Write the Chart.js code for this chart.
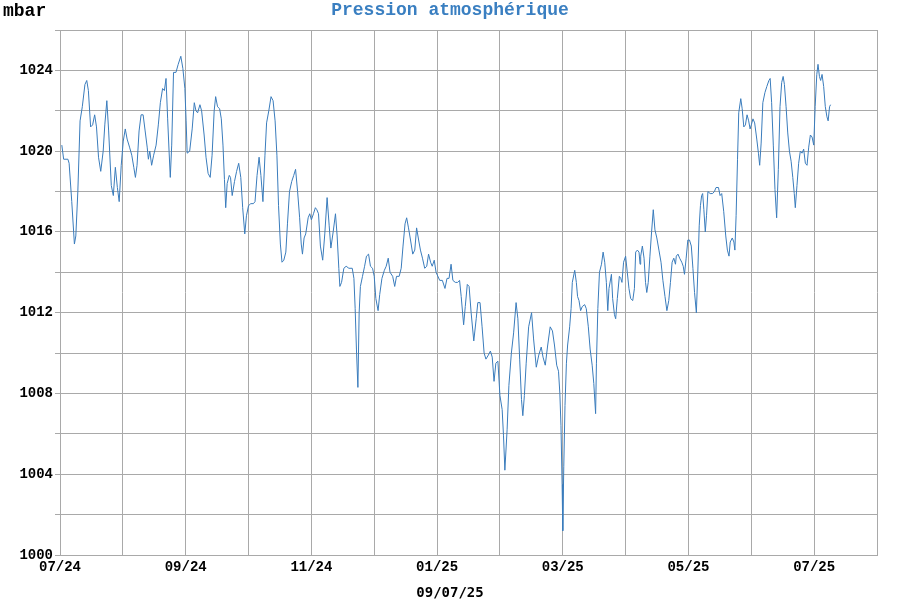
<!DOCTYPE html>
<html>
<head>
<meta charset="utf-8">
<script src="https://cdn.jsdelivr.net/npm/chart.js@4.4.1/dist/chart.umd.min.js"></script>
<style>
  html, body { margin: 0; padding: 0; background: #ffffff; }
  canvas { display: block; }
</style>
</head>
<body>
<canvas id="c" width="900" height="600"></canvas>
<script>
// Month tick labels (one gridline per month, label every 2 months)
const monthLabels = ['07/24','08/24','09/24','10/24','11/24','12/24','01/25','02/25','03/25','04/25','05/25','06/25','07/25','08/25'];
const monthLengths = [31,31,30,31,30,31,31,28,31,30,31,30,31];

// Readings: [day of month, pressure mbar]
const jul24 = [[1.9,1020.3],[2.8,1019.6],[4.9,1019.6],[5.5,1019.4],[6.8,1017.5],[8.1,1015.4],[8.8,1015.8],[9.8,1018.0],[10.9,1021.5],[12.0,1022.2],[13.3,1023.3],[14.2,1023.5],[15.0,1023.0],[16.1,1021.2],[17.1,1021.3],[18.1,1021.8],[19.0,1021.2],[20.0,1019.7],[21.1,1019.0],[22.3,1020.0],[23.1,1021.3],[24.1,1022.5],[25.0,1021.0],[26.3,1018.3],[27.3,1017.8],[28.3,1019.2],[29.3,1018.2],[30.2,1017.5],[31.2,1019.3]];
const aug24 = [[1.2,1020.5],[2.2,1021.1],[3.1,1020.6],[4.3,1020.2],[5.4,1019.8],[6.4,1019.2],[7.2,1018.7],[8.0,1019.3],[9.0,1021.0],[10.0,1021.8],[11.0,1021.8],[12.0,1021.0],[13.0,1020.2],[13.6,1019.6],[14.3,1020.0],[15.2,1019.3],[16.2,1019.8],[17.4,1020.3],[18.5,1021.3],[19.5,1022.4],[20.6,1023.1],[21.5,1023.0],[22.3,1023.6],[23.1,1021.6],[23.8,1020.0],[24.4,1018.7],[25.1,1020.3],[26.0,1023.9],[27.2,1023.9],[28.3,1024.3],[29.6,1024.7],[30.6,1024.1],[31.6,1023.1]];
const sep24 = [[1.2,1021.5],[1.7,1019.9],[2.9,1020.0],[4.1,1021.1],[5.1,1022.4],[5.9,1022.0],[6.7,1021.9],[7.8,1022.3],[8.6,1022.0],[9.8,1020.8],[10.7,1019.7],[11.7,1018.9],[12.7,1018.7],[13.6,1019.8],[14.6,1022.0],[15.3,1022.7],[16.2,1022.2],[17.2,1022.1],[18.0,1021.6],[18.8,1020.3],[19.5,1018.6],[20.1,1017.2],[20.8,1018.4],[21.8,1018.8],[22.4,1018.7],[23.2,1017.8],[24.3,1018.5],[25.3,1019.0],[26.3,1019.4],[27.3,1018.7],[28.2,1017.2],[29.2,1015.9],[30.0,1016.8]];
const oct24 = [[1.0,1017.3],[2.1,1017.4],[3.4,1017.4],[4.2,1017.5],[5.2,1018.8],[6.2,1019.7],[7.1,1018.8],[8.1,1017.5],[9.1,1019.8],[9.9,1021.4],[11.0,1022.0],[12.1,1022.7],[13.1,1022.5],[14.1,1021.5],[15.0,1019.8],[15.8,1017.3],[16.7,1015.4],[17.5,1014.5],[18.4,1014.6],[19.4,1015.0],[20.2,1016.4],[21.2,1018.0],[22.3,1018.5],[23.3,1018.8],[24.2,1019.1],[25.2,1018.0],[26.2,1016.7],[27.0,1015.4],[27.6,1014.9],[28.4,1015.7],[29.2,1015.9],[30.4,1016.7],[31.2,1016.9]];
const nov24 = [[1.0,1016.6],[2.0,1016.9],[2.9,1017.2],[3.6,1017.1],[4.4,1016.9],[5.3,1015.3],[6.4,1014.6],[7.4,1015.9],[8.5,1017.7],[9.5,1016.3],[10.3,1015.2],[11.4,1016.0],[12.5,1016.9],[13.3,1015.8],[14.1,1014.2],[14.6,1013.3],[15.4,1013.5],[16.5,1014.2],[17.6,1014.3],[18.9,1014.2],[20.5,1014.2],[21.3,1013.7],[21.9,1012.2],[22.5,1010.2],[23.2,1008.3],[23.8,1012.0],[24.4,1013.3],[25.4,1013.8],[26.4,1014.3],[27.3,1014.8],[28.3,1014.9],[29.2,1014.3],[30.2,1014.2]];
const dec24 = [[1.0,1013.8],[1.8,1012.7],[2.9,1012.1],[3.7,1012.9],[4.8,1013.7],[6.0,1014.1],[6.9,1014.3],[7.9,1014.7],[8.8,1014.0],[10.1,1013.8],[11.1,1013.3],[12.0,1013.8],[13.3,1013.8],[14.3,1014.2],[15.2,1015.3],[16.2,1016.4],[17.0,1016.7],[17.9,1016.2],[18.9,1015.6],[20.0,1014.9],[21.0,1015.1],[21.9,1016.2],[22.9,1015.6],[23.8,1015.1],[24.8,1014.7],[25.9,1014.2],[26.9,1014.3],[27.8,1014.9],[28.8,1014.5],[29.6,1014.3],[30.6,1014.6],[31.5,1014.0]];
const jan25 = [[2.3,1013.6],[3.6,1013.6],[4.9,1013.2],[5.9,1013.7],[6.9,1013.7],[7.9,1014.4],[8.8,1013.6],[10.0,1013.5],[11.1,1013.5],[12.1,1013.6],[12.9,1012.8],[14.1,1011.4],[14.9,1012.3],[15.9,1013.4],[16.8,1013.3],[17.8,1012.0],[19.1,1010.6],[20.3,1011.7],[21.1,1012.5],[22.2,1012.5],[23.2,1011.3],[24.2,1010.0],[25.1,1009.7],[26.3,1009.9],[27.3,1010.1],[28.2,1009.8],[29.1,1008.6],[30.0,1009.5],[31.0,1009.6]];
const feb25 = [[1.0,1007.9],[2.0,1007.2],[2.6,1005.9],[3.2,1004.2],[4.2,1006.2],[5.0,1008.4],[6.1,1010.0],[7.1,1011.0],[8.2,1012.5],[9.0,1011.7],[9.8,1009.7],[10.6,1007.7],[11.2,1006.9],[11.9,1007.9],[12.7,1009.5],[13.8,1011.3],[15.1,1012.0],[16.0,1010.7],[17.2,1009.3],[18.3,1009.9],[19.4,1010.3],[20.2,1009.8],[21.2,1009.4],[22.3,1010.4],[23.4,1011.3],[24.4,1011.1],[25.3,1010.4],[26.3,1009.4],[27.1,1009.1],[27.7,1008.0],[28.2,1006.4],[28.7,1003.5]];
const mar25 = [[1.0,1001.2],[1.5,1004.4],[2.1,1007.4],[2.8,1009.5],[3.4,1010.4],[4.4,1011.3],[5.1,1012.2],[5.7,1013.5],[6.9,1014.1],[7.7,1013.5],[8.3,1012.8],[9.0,1012.6],[9.8,1012.1],[10.6,1012.3],[11.8,1012.4],[12.6,1012.2],[13.6,1011.3],[14.5,1010.2],[15.5,1009.4],[16.3,1008.5],[17.2,1007.0],[17.6,1009.5],[18.3,1012.2],[19.1,1014.0],[20.1,1014.4],[20.9,1015.0],[21.7,1014.5],[22.5,1013.5],[23.2,1012.1],[23.8,1013.2],[25.0,1013.9],[25.6,1012.7],[26.5,1011.9],[27.1,1011.7],[27.9,1012.7],[28.9,1013.8],[29.6,1013.7],[30.2,1013.5],[31.0,1014.5]];
const apr25 = [[1.0,1014.8],[1.8,1014.0],[2.6,1013.2],[3.4,1012.7],[4.4,1012.6],[5.2,1013.2],[5.8,1015.0],[6.6,1015.1],[7.4,1015.0],[7.9,1014.4],[8.2,1014.8],[9.0,1015.3],[9.8,1014.7],[10.5,1013.5],[11.1,1013.0],[11.8,1013.5],[12.6,1014.8],[13.4,1016.0],[14.2,1017.1],[15.0,1016.1],[15.9,1015.7],[16.9,1015.1],[17.9,1014.5],[18.8,1013.6],[19.8,1012.8],[20.7,1012.1],[21.6,1012.6],[22.4,1013.5],[23.2,1014.5],[24.0,1014.7],[24.8,1014.4],[25.2,1014.8],[26.0,1014.9],[26.8,1014.7],[27.8,1014.5],[28.5,1014.3],[29.1,1013.9],[29.9,1014.7],[30.7,1015.6]];
const may25 = [[1.5,1015.6],[2.4,1015.3],[3.2,1014.2],[4.0,1013.0],[4.9,1012.0],[5.6,1014.0],[6.3,1016.3],[6.9,1017.3],[7.5,1017.8],[8.0,1017.9],[8.6,1017.1],[9.3,1016.0],[9.9,1016.8],[10.6,1018.0],[11.7,1017.9],[12.9,1017.9],[13.8,1018.0],[14.6,1018.2],[15.8,1018.2],[16.6,1017.8],[17.4,1017.9],[18.4,1017.0],[19.4,1015.8],[20.2,1015.1],[21.0,1014.8],[21.6,1015.5],[22.6,1015.7],[23.4,1015.5],[23.9,1015.1],[24.5,1016.8],[25.2,1019.6],[25.8,1021.9],[26.8,1022.6],[27.5,1022.1],[28.3,1021.2],[29.1,1021.3],[29.9,1021.8],[30.7,1021.5],[31.4,1021.1]];
const jun25 = [[1.0,1021.3],[1.8,1021.6],[2.6,1021.4],[3.6,1020.6],[4.4,1019.9],[5.0,1019.3],[5.7,1020.4],[6.5,1022.4],[7.5,1022.9],[8.4,1023.2],[9.4,1023.5],[10.0,1023.6],[10.7,1022.4],[11.5,1020.3],[12.3,1018.1],[13.1,1016.7],[13.9,1019.1],[14.7,1022.2],[15.5,1023.4],[16.2,1023.7],[16.8,1023.3],[17.6,1022.2],[18.4,1020.9],[19.2,1020.0],[20.0,1019.5],[20.8,1018.7],[21.5,1017.9],[22.0,1017.2],[22.8,1018.3],[23.6,1019.4],[24.4,1020.0],[25.2,1019.9],[26.0,1020.1],[26.8,1019.4],[27.6,1019.3],[28.4,1020.2],[29.2,1020.8],[30.0,1020.7],[30.8,1020.3]];
const jul25 = [[1.5,1022.2],[2.3,1023.8],[2.9,1024.3],[3.6,1023.7],[4.2,1023.5],[4.9,1023.8],[5.7,1023.2],[6.5,1022.2],[7.3,1021.7],[7.9,1021.5],[8.6,1022.2],[9.1,1022.3]];

const monthlyReadings = [jul24, aug24, sep24, oct24, nov24, dec24, jan25, feb25, mar25, apr25, may25, jun25, jul25];

const chartTitle = 'Pression atmosphérique';
const unitLabel = 'mbar';
const dateLabel = '09/07/25';

// Position each reading on a month-uniform axis
const points = [];
monthlyReadings.forEach((arr, m) => {
  arr.forEach(([d, v]) => points.push({ x: m + (d - 1) / monthLengths[m], y: v }));
});

const gridColor = '#a9a9a9';
const lineColor = '#3a7cbc';

const textPlugin = {
  id: 'texts',
  afterDraw(chart) {
    const ctx = chart.ctx;
    ctx.save();
    ctx.textBaseline = 'alphabetic';
    ctx.font = 'bold 18px "Liberation Mono", "Courier New", monospace';
    ctx.fillStyle = '#000000';
    ctx.textAlign = 'left';
    ctx.fillText(unitLabel, 3, 16);
    ctx.font = 'bold 18px "Liberation Mono", "Courier New", monospace';
    ctx.fillStyle = '#3a7fc1';
    ctx.textAlign = 'center';
    ctx.fillText(chartTitle, 450, 15);
    ctx.font = 'bold 14px "DejaVu Sans Mono", monospace';
    ctx.fillStyle = '#000000';
    ctx.fillText(dateLabel, 450, 597);
    ctx.restore();
  }
};

new Chart(document.getElementById('c'), {
  type: 'line',
  data: {
    datasets: [{
      data: points,
      borderColor: lineColor,
      borderWidth: 1,
      pointRadius: 0,
      tension: 0,
      fill: false
    }]
  },
  options: {
    responsive: false,
    animation: false,
    devicePixelRatio: 1,
    layout: { padding: { top: 30, right: 23, left: 0, bottom: 0 } },
    plugins: { legend: { display: false }, tooltip: { enabled: false }, title: { display: false } },
    scales: {
      x: {
        type: 'linear',
        min: 0,
        max: 13,
        afterFit: s => { s.height = 45; },
        afterBuildTicks: s => { s.ticks = monthLabels.map((_, i) => ({ value: i })); },
        ticks: {
          autoSkip: false,
          maxRotation: 0,
          padding: 4,
          color: '#000000',
          font: { family: '"Liberation Mono", monospace', size: 14, weight: 'bold' },
          callback: (v) => (v % 2 === 0 ? monthLabels[v] : '')
        },
        grid: { color: gridColor, drawTicks: false, lineWidth: 1 },
        border: { color: gridColor }
      },
      y: {
        min: 1000,
        max: 1026,
        afterFit: s => { s.width = 60; },
        ticks: {
          stepSize: 2,
          padding: 2,
          color: '#000000',
          font: { family: '"Liberation Mono", monospace', size: 14, weight: 'bold' },
          callback: (v) => (v % 4 === 0 ? String(v) : '')
        },
        grid: { color: gridColor, tickLength: 5, lineWidth: 1 },
        border: { color: gridColor }
      }
    }
  },
  plugins: [textPlugin]
});
</script>
</body>
</html>
